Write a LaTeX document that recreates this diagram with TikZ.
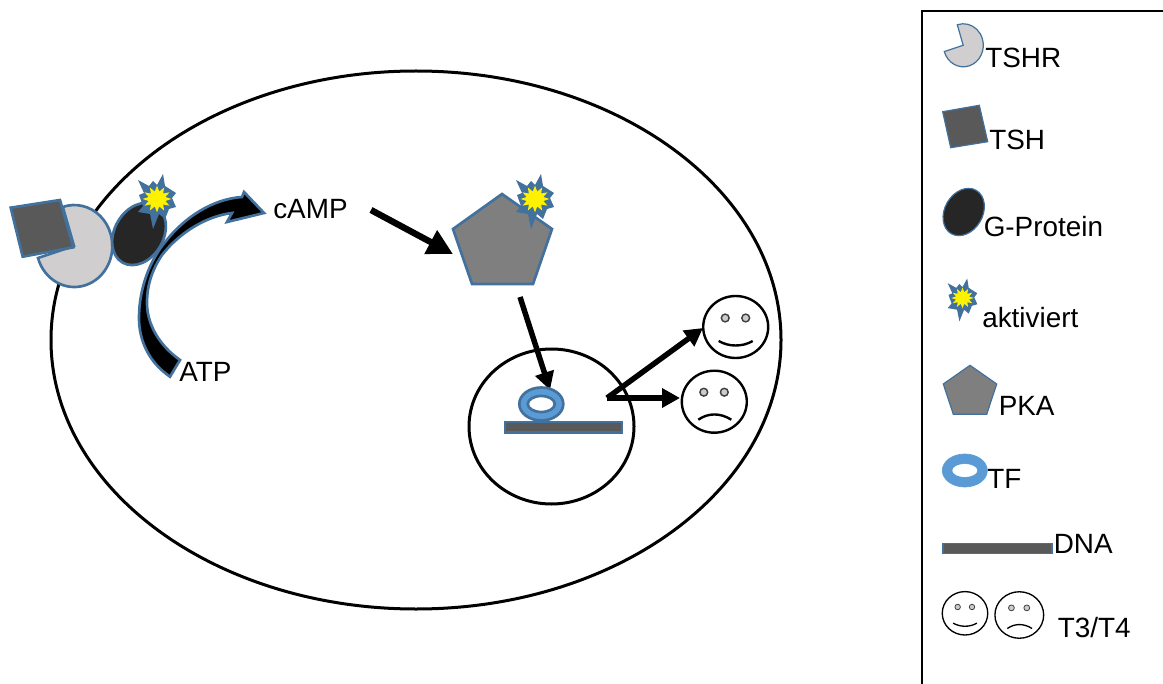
\documentclass[tikz,border=0pt]{standalone}
\usepackage{fontspec}
\setmainfont{Liberation Sans}
\usetikzlibrary{arrows.meta}
\definecolor{edgeblue}{HTML}{41719C}
\definecolor{tfblue}{HTML}{5B9BD5}
\definecolor{receptor}{HTML}{D0CECE}
\definecolor{hormone}{HTML}{595959}
\definecolor{gprotein}{HTML}{262626}
\definecolor{kinase}{HTML}{7F7F7F}
\tikzset{
  label text/.style={anchor=base west,inner sep=0pt,font=\fontsize{20.9pt}{24pt}\selectfont,text=black},
  outline/.style={draw=edgeblue,line width=2pt,line join=miter},
  thin outline/.style={draw=edgeblue,line width=0.9pt,line join=miter},
  membrane/.style={draw=black,line width=2.25pt},
  flow/.style={draw=black,line width=4.1pt,-{Triangle[length=13.5pt,width=14pt]}},
  big flow/.style={draw=black,line width=4.8pt,-{Triangle[length=19pt,width=19pt]}},
  pics/burst/.style={code={
    \path[fill=edgeblue,line join=miter]
      (-19,-19)--(-8,-13)--(-4,-18)--(0,-14)--(6,-25)--(8,-13)--(19,-6)--(15,-1)--(19,8)
      --(12,10)--(8,20)--(2,15)--(-4,30)--(-7,15)--(-19,13)--(-14,7)--(-18,-4)--(-13,-6)--cycle;
    \fill[yellow] plot[samples at={0,15,...,345},variable=\a]
      ({(11.5+2.8*cos(12*\a))*cos(\a)},{(10.5+2.8*cos(12*\a))*sin(\a)})--cycle;
  }},
  pics/pacman/.style={code={
    \path[fill=receptor,#1]
      (-1,0.5)--(-37,12.5) arc[start angle=163,end angle=-107.7,x radius=38,y radius=41]--cycle;
  }},
  pics/happyface/.style={code={
    \draw[black,line width=#1] (0,0) ellipse[x radius=32.5,y radius=31];
    \draw[black!75,line width=0.6*#1,fill=black!20] (-10.5,-9) circle[radius=3.9] (10,-9) circle[radius=3.9];
    \draw[black,line width=#1] (-17,14) .. controls (-7,20) and (7,20) .. (17,14);
  }},
  pics/sadface/.style={code={
    \draw[black,line width=#1] (0,0) ellipse[x radius=32.5,y radius=31];
    \draw[black!75,line width=0.6*#1,fill=black!20] (-10.5,-9.5) circle[radius=3.9] (10,-9.5) circle[radius=3.9];
    \draw[black,line width=#1] (-16,18) .. controls (-6,11) and (6,11) .. (17,18);
  }},
}
\begin{document}
\begin{tikzpicture}[x=0.75pt,y=-0.75pt]
\useasboundingbox (0,0) rectangle (1163,684);

% cell and nucleus
\draw[membrane] (416,340) ellipse[x radius=365,y radius=269];
\draw[membrane] (551.5,426.5) ellipse[x radius=82.5,y radius=77.5];

% receptor complex at the membrane
\pic at (75,245.5) {pacman={outline}};
\path[fill=hormone,outline] (10.7,207.7)--(60,200)--(73.3,247.3)--(22.7,256.7)--cycle;
\path[fill=gprotein,outline,rotate around={60:(139,234)}] (139,234) ellipse[x radius=33,y radius=24.5];
\pic at (157,199) {burst};

% ATP to cAMP conversion arrow
\path[fill=black,outline]
  (170,376.7) .. controls (150,363) and (139,342) .. (139,318)
  .. controls (139,288) and (150,260) .. (166,241)
  .. controls (184,218) and (212,199) .. (242,197)
  -- (244,192) -- (264,213) -- (227,222) -- (232,213)
  .. controls (207,216) and (180,232) .. (162,255)
  .. controls (152,270) and (147,285) .. (147,303)
  .. controls (147,325) and (160,346) .. (180,360) -- cycle;

\node[label text] (atp) at (179,381) {ATP};
\node[label text] (camp) at (273,219) {cAMP};

% protein kinase A
\path[fill=kinase,outline] (502,194)--(552,229)--(533,284)--(472,284)--(453,229)--cycle;
\pic at (535,199) {burst};

\coordinate (camp out) at (371,210);
\coordinate (pka in) at (453,254);
\draw[big flow] (camp out) -- (pka in);

\coordinate (pka out) at (520,297);
\coordinate (tf in) at (550,390);
\draw[flow] (pka out) -- (tf in);

% transcription factor bound to DNA
\path[fill=hormone,outline] (505,422) rectangle (622,432.5);
\path[fill=tfblue,even odd rule,outline] (541.3,404) ellipse[x radius=22,y radius=16.5]
  (541.3,404) ellipse[x radius=13.5,y radius=8];

% products leaving the nucleus
\pic at (735.7,327) {happyface=1.8pt};
\pic at (714.3,401.7) {sadface=1.8pt};
\coordinate (gene out) at (607,398);
\coordinate (happy in) at (703,328);
\coordinate (sad in) at (680,398);
\draw[flow] (gene out) -- (happy in);
\draw[flow] (gene out) -- (sad in);

% legend frame, open towards the page edges
\draw[line width=1.5pt,black] (1163,11)--(921.5,11)--(921.5,684);

% legend entries
\pic[scale=0.525] at (963.7,45) {pacman={thin outline}};
\node[label text] (key tshr) at (985,68) {TSHR};

\path[fill=hormone,thin outline] (942.7,111.7)--(979.3,105.3)--(987.7,141.7)--(950.7,147.7)--cycle;
\node[label text] (key tsh) at (989,149.5) {TSH};

\path[fill=gprotein,thin outline,rotate around={60:(963.7,212)}] (963.7,212) ellipse[x radius=25,y radius=19];
\node[label text] (key gprotein) at (983.5,237) {G-Protein};

\pic[scale=0.78] at (962.5,298) {burst};
\node[label text] (key active) at (982,327.5) {aktiviert};

\path[fill=kinase,thin outline] (970,365.3)--(996.7,384)--(986.7,414.3)--(953.3,414.3)--(943.3,384)--cycle;
\node[label text] (key pka) at (998.5,415.5) {PKA};

\path[fill=tfblue,even odd rule,draw=tfblue,line width=0.5pt] (964.8,470.5) ellipse[x radius=22.5,y radius=16.5]
  (964.8,470.5) ellipse[x radius=13,y radius=7];
\node[label text] (key tf) at (987,488.5) {TF};

\path[fill=hormone,draw=edgeblue,line width=1.3pt] (942.8,543.5) rectangle (1052,553.5);
\node[label text] (key dna) at (1053.5,553.5) {DNA};

\pic[scale=0.7] at (965,613.3) {happyface=1pt};
\pic[scale=0.75] at (1019.3,615) {sadface=1pt};
\node[label text] (key t3t4) at (1057.5,637) {T3/T4};
\end{tikzpicture}
\end{document}
